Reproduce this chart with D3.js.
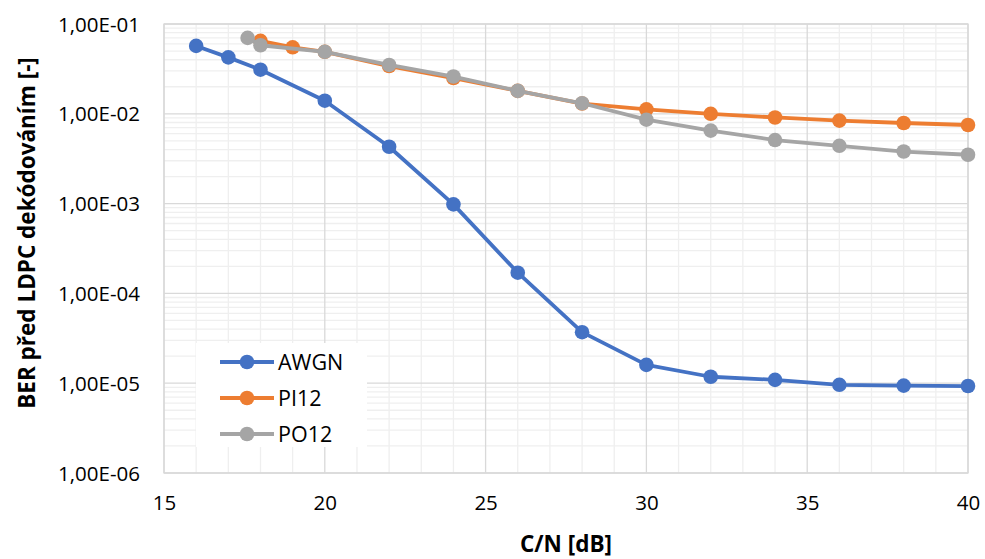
<!DOCTYPE html>
<html>
<head>
<meta charset="utf-8">
<script src="https://cdn.jsdelivr.net/npm/d3@7"></script>
<style>
  html, body { margin: 0; padding: 0; background: #fff; }
  svg { display: block; }
  text { font-family: "Open Sans", "Noto Sans", sans-serif; fill: #000; }
</style>
</head>
<body>
<svg id="chart" width="985" height="559"></svg>
<script>
// ---- data ----
const awgnX = [16, 17, 18, 20, 22, 24, 26, 28, 30, 32, 34, 36, 38, 40];
const awgnY = [5.7e-2, 4.25e-2, 3.1e-2, 1.4e-2, 4.3e-3, 9.8e-4, 1.7e-4, 3.7e-5, 1.6e-5, 1.18e-5, 1.09e-5, 9.6e-6, 9.4e-6, 9.3e-6];
const pi12X = [18, 19, 20, 22, 24, 26, 28, 30, 32, 34, 36, 38, 40];
const pi12Y = [6.5e-2, 5.5e-2, 4.9e-2, 3.4e-2, 2.5e-2, 1.8e-2, 1.3e-2, 1.12e-2, 1.0e-2, 9.1e-3, 8.4e-3, 7.9e-3, 7.5e-3];
const po12X = [17.6, 18, 20, 22, 24, 26, 28, 30, 32, 34, 36, 38, 40];
const po12Y = [7.0e-2, 5.8e-2, 4.9e-2, 3.5e-2, 2.6e-2, 1.8e-2, 1.31e-2, 8.6e-3, 6.5e-3, 5.1e-3, 4.4e-3, 3.8e-3, 3.5e-3];
const seriesNames = ["AWGN", "PI12", "PO12"];
const seriesColors = ["#4472C4", "#ED7D31", "#A5A5A5"];
const xTicks = [15, 20, 25, 30, 35, 40];
const yTicks = [1e-1, 1e-2, 1e-3, 1e-4, 1e-5, 1e-6];
const yTickLabels = ["1,00E-01", "1,00E-02", "1,00E-03", "1,00E-04", "1,00E-05", "1,00E-06"];
const xTitle = "C/N [dB]";
const yTitle = "BER před LDPC dekódováním [-]";

// ---- layout ----
const svg = d3.select("#chart");
const L = 164, R = 968, T = 24, B = 473;
const x = d3.scaleLinear().domain([15, 40]).range([L, R]);
const y = d3.scaleLog().domain([1e-6, 1e-1]).range([B, T]);

const grid = svg.append("g");
// minor vertical
d3.range(15, 41, 1).filter(v => v % 5 !== 0).forEach(v => {
  grid.append("line").attr("x1", x(v)).attr("x2", x(v)).attr("y1", T).attr("y2", B)
    .attr("stroke", "#EFEFEF").attr("stroke-width", 1.3);
});
// minor horizontal
for (let e = -6; e < -1 + 0.5; e++) {
  for (let m = 2; m <= 9; m++) {
    const v = m * Math.pow(10, e);
    if (v >= 1e-1) continue;
    grid.append("line").attr("x1", L).attr("x2", R).attr("y1", y(v)).attr("y2", y(v))
      .attr("stroke", "#EFEFEF").attr("stroke-width", 1.3);
  }
}
// major
xTicks.forEach(v => {
  grid.append("line").attr("x1", x(v)).attr("x2", x(v)).attr("y1", T).attr("y2", B)
    .attr("stroke", "#D9D9D9").attr("stroke-width", 1.3);
});
yTicks.forEach(v => {
  grid.append("line").attr("x1", L).attr("x2", R).attr("y1", y(v)).attr("y2", y(v))
    .attr("stroke", "#D9D9D9").attr("stroke-width", 1.3);
});
grid.append("rect").attr("x", L).attr("y", T).attr("width", R - L).attr("height", B - T)
  .attr("fill", "none").attr("stroke", "#D9D9D9").attr("stroke-width", 1.3);

// axes (labels only)
const xAxis = d3.axisBottom(x).tickValues(xTicks).tickSize(0).tickPadding(0).tickFormat(d3.format("d"));
const gx = svg.append("g").attr("transform", `translate(0,${B})`).call(xAxis);
gx.select(".domain").remove();
gx.selectAll("text").attr("font-size", 20.5).attr("dy", null).attr("y", 37)
  .attr("font-family", "'Open Sans', sans-serif");

const yAxis = d3.axisLeft(y).tickValues(yTicks).tickSize(0).tickPadding(0)
  .tickFormat((d, i) => yTickLabels[i]);
const gy = svg.append("g").attr("transform", `translate(140,0)`).call(yAxis);
gy.select(".domain").remove();
gy.selectAll("text").attr("font-size", 20.5).attr("x", 0).attr("dy", "0.35em")
  .attr("font-family", "'Open Sans', sans-serif");

// titles
svg.append("text").attr("x", (L + R) / 2).attr("y", 552).attr("text-anchor", "middle")
  .attr("font-size", 22.5).attr("font-weight", "bold").text(xTitle);
svg.append("text").attr("transform", `translate(35,233) rotate(-90)`).attr("text-anchor", "middle")
  .attr("font-size", 22.5).attr("font-weight", "bold").text(yTitle);

// series
const series = [
  {name: seriesNames[0], color: seriesColors[0], xs: awgnX, ys: awgnY},
  {name: seriesNames[1], color: seriesColors[1], xs: pi12X, ys: pi12Y},
  {name: seriesNames[2], color: seriesColors[2], xs: po12X, ys: po12Y}
];
const line = d3.line().x(d => x(d[0])).y(d => y(d[1]));
series.forEach(s => {
  const pts = s.xs.map((v, i) => [v, s.ys[i]]);
  const g = svg.append("g");
  g.append("path").datum(pts).attr("d", line).attr("fill", "none")
    .attr("stroke", s.color).attr("stroke-width", 3.8).attr("stroke-linejoin", "round");
  g.selectAll("circle").data(pts).enter().append("circle")
    .attr("cx", d => x(d[0])).attr("cy", d => y(d[1])).attr("r", 7.3).attr("fill", s.color);
});

// legend
const lg = svg.append("g");
lg.append("rect").attr("x", 196).attr("y", 343).attr("width", 171).attr("height", 104).attr("fill", "#fff");
series.forEach((s, i) => {
  const cy = 362 + i * 36;
  lg.append("line").attr("x1", 220).attr("x2", 274).attr("y1", cy).attr("y2", cy)
    .attr("stroke", s.color).attr("stroke-width", 3.8);
  lg.append("circle").attr("cx", 247).attr("cy", cy).attr("r", 7.3).attr("fill", s.color);
  lg.append("text").attr("x", 278).attr("y", cy).attr("dy", "0.36em").attr("font-size", 21.5).text(s.name);
});
</script>
</body>
</html>
